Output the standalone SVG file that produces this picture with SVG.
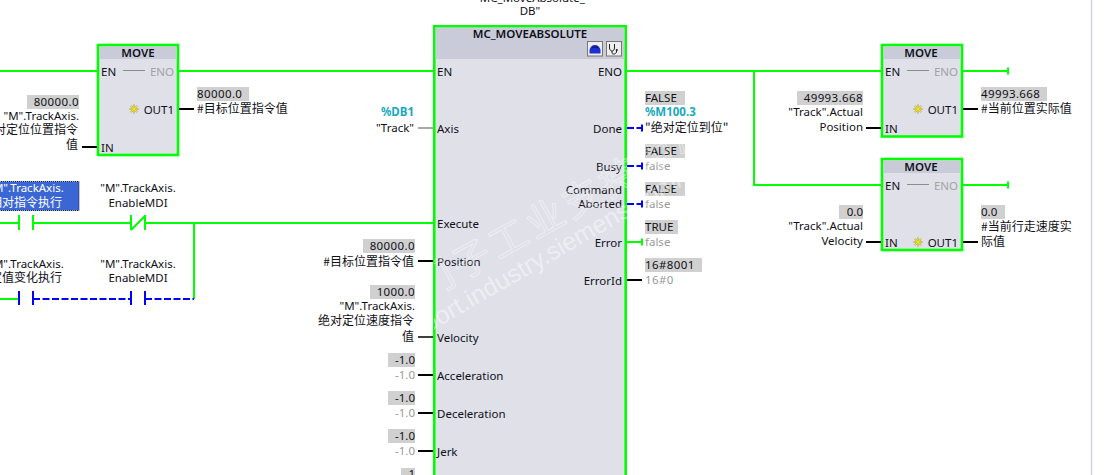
<svg xmlns="http://www.w3.org/2000/svg" width="1106" height="475" viewBox="0 0 1106 475">
<style>
text{font-family:"Noto Sans","Noto Sans CJK SC",sans-serif;font-size:11.5px;fill:#101018}
.r{text-anchor:end}.m{text-anchor:middle}
.n{letter-spacing:.4px}
.c{font-family:"Noto Sans CJK SC","Noto Sans",sans-serif;font-size:12px}
.g{fill:#9a9a9a}.h{font-weight:600}
.tag{fill:#1aa8bd;font-weight:700}
.dis{fill:#a3a3a3}.w{fill:#fff}
.val{fill:#d0d0d0}
.box{fill:#dfe0e8;stroke:#0f0;stroke-width:2.6}
.hd{fill:#c9cbd9}
.ul{stroke:url(#fade);stroke-width:1;fill:none}
.ulr{stroke:url(#fader);stroke-width:1;fill:none}
.rail{stroke:#0f0;stroke-width:2;fill:none}
.dash{stroke:#00f;stroke-width:2;fill:none;stroke-dasharray:7 2.5}
.tick{stroke:#00f;stroke-width:2;fill:none}
.wire{stroke:#000;stroke-width:2;fill:none}
.wg{stroke:#a8a8a8;stroke-width:2;fill:none}
.link{stroke:#8c8c8c;stroke-width:1;fill:none}
.star{stroke:#f4e800;stroke-width:1;fill:none}
</style>
<defs>
<linearGradient id="fade"><stop offset="0" stop-color="#fff"/><stop offset="1" stop-color="#fff" stop-opacity="0"/></linearGradient>
<linearGradient id="fader"><stop offset="0" stop-color="#fff" stop-opacity="0"/><stop offset="1" stop-color="#fff"/></linearGradient>
<clipPath id="wm"><rect x="434" y="135" width="290" height="340"/></clipPath>
<g id="spark"><path d="M-4.500 0H4.500M0-4.500V4.500M-3.200-3.200L3.200 3.200M-3.200 3.200L3.200-3.200" stroke="#6a6a20" stroke-width="1.800" fill="none" opacity=".45"/><path class="star" d="M-4 0H4M0-4V4M-3-3L3 3M-3 3L3-3"/></g>
</defs>
<rect width="1106" height="475" fill="#fff"/>
<path d="M1091.500 0V475" stroke="#cfcfe6" stroke-width="1.500"/>

<g id="contact-1">
<rect x="-1" y="181.500" width="80" height="29" fill="#3a67d4" stroke="#223" stroke-dasharray="1 1"/>
<text class="m w" x="26" y="192">"M".TrackAxis.</text>
<text class="m c w" x="26" y="207">相对指令执行</text>
</g>
<g id="contact-2">
<text class="m" x="138" y="192">"M".TrackAxis.</text>
<text class="m" x="138" y="207">EnableMDI</text>
</g>
<g id="contact-3">
<text class="m" x="26" y="268">"M".TrackAxis.</text>
<text class="m c" x="26" y="282">定值变化执行</text>
</g>
<g id="contact-4">
<text class="m" x="138" y="268">"M".TrackAxis.</text>
<text class="m" x="138" y="282">EnableMDI</text>
</g>

<g id="move-1">
<rect class="box" x="98" y="45" width="80" height="110"/>
<rect class="hd" x="99.500" y="46.500" width="77" height="12.500"/>
<text class="m h" x="138" y="57">MOVE</text>
<text x="101" y="76">EN</text>
<path class="link" d="M123 70.500H145"/>
<text class="r dis" x="174" y="76">ENO</text>
<path class="ul" d="M100 80.500H120"/><path class="ulr" d="M150 80.500H175"/>
<use href="#spark" x="134" y="109"/>
<text class="r" x="174" y="114">OUT1</text>
<text x="101" y="152">IN</text>
<rect class="val" x="27" y="95" width="52" height="14"/>
<text class="r n" x="79" y="106">80000.0</text>
<text class="r" x="79" y="120">"M".TrackAxis.</text>
<text class="r c" x="78" y="134">绝对定位位置指令</text>
<text class="r c" x="78" y="149">值</text>
<rect class="val" x="197" y="87" width="52" height="14"/>
<text class="n" x="197" y="98">80000.0</text>
<text class="c" x="197" y="113">#目标位置指令值</text>
</g>

<g id="mc-moveabsolute">
<text class="m" x="530" y="1.500">"MC_MoveAbsolute_</text>
<text class="m" x="530" y="15">DB"</text>
<rect class="box" x="434.300" y="26.300" width="191.400" height="460"/>
<rect class="hd" x="435.600" y="27.600" width="188.800" height="31.400"/>
<text class="m h" x="530" y="38">MC_MOVEABSOLUTE</text>
<rect x="587.500" y="41.500" width="15" height="14.500" fill="#eee" stroke="#777"/>
<path d="M589.500 53.500V50C590 47 592 45 595 45C598 45 600 47 600.500 50V53.500Z" fill="#1c2fd0"/>
<path d="M592 48C593.500 46.500 596.500 46.500 598 48" fill="none" stroke="#0a1050" stroke-width="1"/>
<rect x="606.500" y="41.500" width="15" height="14.500" fill="#eee" stroke="#777"/>
<path d="M609.500 44V48C609.500 50 611 51 612 51C613 51 614.500 50 614.500 48V44M612 51V53C612 54.500 616 54.500 616.500 52V50.500" fill="none" stroke="#222" stroke-width="1"/><circle cx="616.800" cy="50" r="1.100" fill="#222"/>
<text x="437" y="76">EN</text><path class="ul" d="M437 80.500H460"/>
<text class="r" x="622" y="76">ENO</text><path class="ulr" d="M590 80.500H623"/>
<text x="437" y="133">Axis</text><path class="ul" d="M437 137.500H465"/>
<text x="437" y="228">Execute</text><path class="ul" d="M437 232.500H480"/>
<text x="437" y="266">Position</text><path class="ul" d="M437 270.500H480"/>
<text x="437" y="342">Velocity</text><path class="ul" d="M437 346.500H480"/>
<text x="437" y="380">Acceleration</text><path class="ul" d="M437 384.500H510"/>
<text x="437" y="418">Deceleration</text><path class="ul" d="M437 422.500H510"/>
<text x="437" y="456">Jerk</text><path class="ul" d="M437 460.500H465"/>
<text class="r" x="622" y="133">Done</text><path class="ulr" d="M590 137.500H623"/>
<text class="r" x="622" y="171">Busy</text><path class="ulr" d="M595 175.500H623"/>
<text class="r" x="622" y="194">Command</text>
<text class="r" x="622" y="208">Aborted</text><path class="ulr" d="M565 213.500H623"/>
<text class="r" x="622" y="247">Error</text><path class="ulr" d="M590 251.500H623"/>
<text class="r" x="622" y="285">ErrorId</text><path class="ulr" d="M590 289.500H623"/>
<text class="r tag" x="414" y="116">%DB1</text>
<text class="r" x="414" y="132">"Track"</text>
<rect class="val" x="363" y="239" width="52" height="14"/>
<text class="r n" x="415" y="250">80000.0</text>
<text class="r c" x="414" y="266">#目标位置指令值</text>
<rect class="val" x="370" y="285" width="45" height="14"/>
<text class="r n" x="415" y="296">1000.0</text>
<text class="r" x="415" y="310">"M".TrackAxis.</text>
<text class="r c" x="414" y="325">绝对定位速度指令</text>
<text class="r c" x="414" y="341">值</text>
<rect class="val" x="388" y="353" width="27" height="14"/>
<text class="r" x="415" y="364">-1.0</text><text class="r g" x="415" y="379">-1.0</text>
<rect class="val" x="388" y="391" width="27" height="14"/>
<text class="r" x="415" y="402">-1.0</text><text class="r g" x="415" y="417">-1.0</text>
<rect class="val" x="388" y="429" width="27" height="14"/>
<text class="r" x="415" y="440">-1.0</text><text class="r g" x="415" y="455">-1.0</text>
<rect class="val" x="401" y="468" width="14" height="8"/>
<text class="r" x="415" y="478">1</text>
<rect class="val" x="645" y="91" width="40" height="14"/>
<text x="645" y="102">FALSE</text>
<text class="tag" x="645" y="116">%M100.3</text>
<text class="c" x="645" y="132">"绝对定位到位"</text>
<rect class="val" x="645" y="144" width="40" height="14"/>
<text x="645" y="155">FALSE</text><text class="g" x="645" y="170">false</text>
<rect class="val" x="645" y="182" width="40" height="14"/>
<text x="645" y="193">FALSE</text><text class="g" x="645" y="208">false</text>
<rect class="val" x="645" y="220" width="33" height="14"/>
<text x="645" y="231">TRUE</text><text class="g" x="645" y="246">false</text>
<rect class="val" x="645" y="258" width="57" height="14"/>
<text class="n" x="645" y="269">16#8001</text><text class="g n" x="645" y="284">16#0</text>
</g>

<g id="move-2">
<rect class="box" x="882" y="45" width="80" height="91.500"/>
<rect class="hd" x="883.500" y="46.500" width="77" height="12.500"/>
<text class="m h" x="921" y="57">MOVE</text>
<text x="885" y="76">EN</text><path class="link" d="M907 70.500H929"/>
<text class="r dis" x="958" y="76">ENO</text>
<path class="ul" d="M884 80.500H905"/><path class="ulr" d="M933 80.500H959"/>
<use href="#spark" x="918" y="109"/>
<text class="r" x="958" y="114">OUT1</text>
<text x="885" y="133">IN</text>
<rect class="val" x="797" y="91" width="66" height="14"/>
<text class="r n" x="863" y="102">49993.668</text>
<text class="r" x="863" y="116">"Track".Actual</text>
<text class="r" x="863" y="131">Position</text>
<rect class="val" x="981" y="87" width="66" height="14"/>
<text class="n" x="981" y="98">49993.668</text>
<text class="c" x="981" y="113">#当前位置实际值</text>
</g>

<g id="move-3">
<rect class="box" x="882" y="159" width="80" height="91"/>
<rect class="hd" x="883.500" y="160.500" width="77" height="12.500"/>
<text class="m h" x="921" y="171">MOVE</text>
<text x="885" y="190">EN</text><path class="link" d="M907 184.500H929"/>
<text class="r dis" x="958" y="190">ENO</text>
<path class="ul" d="M884 194.500H905"/><path class="ulr" d="M933 194.500H959"/>
<use href="#spark" x="918" y="242"/>
<text class="r" x="958" y="247">OUT1</text>
<text x="885" y="247">IN</text>
<rect class="val" x="839" y="205" width="24" height="14"/>
<text class="r" x="863" y="216">0.0</text>
<text class="r" x="863" y="230">"Track".Actual</text>
<text class="r" x="863" y="245">Velocity</text>
<rect class="val" x="981" y="205" width="24" height="14"/>
<text x="981" y="216">0.0</text>
<text class="c" x="981" y="231">#当前行走速度实</text>
<text class="c" x="981" y="246">际值</text>
</g>

<g id="watermark" opacity=".45" clip-path="url(#wm)">
<text transform="translate(393 353) rotate(-30)" style="font-family:'Liberation Sans',sans-serif;font-size:25px;fill:#fff">support.industry.siemens.com/cs</text>
<text transform="translate(388 321) rotate(-29)" style="font-family:'Noto Sans CJK SC',sans-serif;font-size:38px;letter-spacing:4px;fill:none;stroke:#fff;stroke-width:1">西门子工业支持中心</text>
</g>

<g id="connectors">
<path class="rail" d="M0 71H97M179 71H433M627 71H881M963 71H1008M1008 67.500V74.500M754 71V185H881M963 185H1008M1008 181.500V188.500"/>
<path class="rail" d="M0 223H19M19 215V230M33 215V230M33 223H131M131 215V230M145 215V230M131 230L145 216M145 223H433M194 223V299M0 299H19"/>
<path class="dash" d="M33 299H131M145 299H194"/>
<path class="tick" d="M19 291V305M33 291V305M131 291V305M145 291V305M642 124.500V131.500M642 162.500V169.500M642 200.500V207.500"/>
<path class="dash" d="M627 128H642M627 166H642M627 204H642"/>
<path class="rail" d="M627 242H642M642 238.500V245.500"/>
<path class="wire" d="M82 147H97M179 109H194M418 261H433M418 375H433M418 413H433M418 451H433M627 280H642M866 128H881M963 109H978M866 242H881M963 242H978"/>
<path class="wire" style="stroke-width:1.500" d="M418 337H433"/>
<path class="wg" d="M418 128H433"/>
</g>
</svg>
